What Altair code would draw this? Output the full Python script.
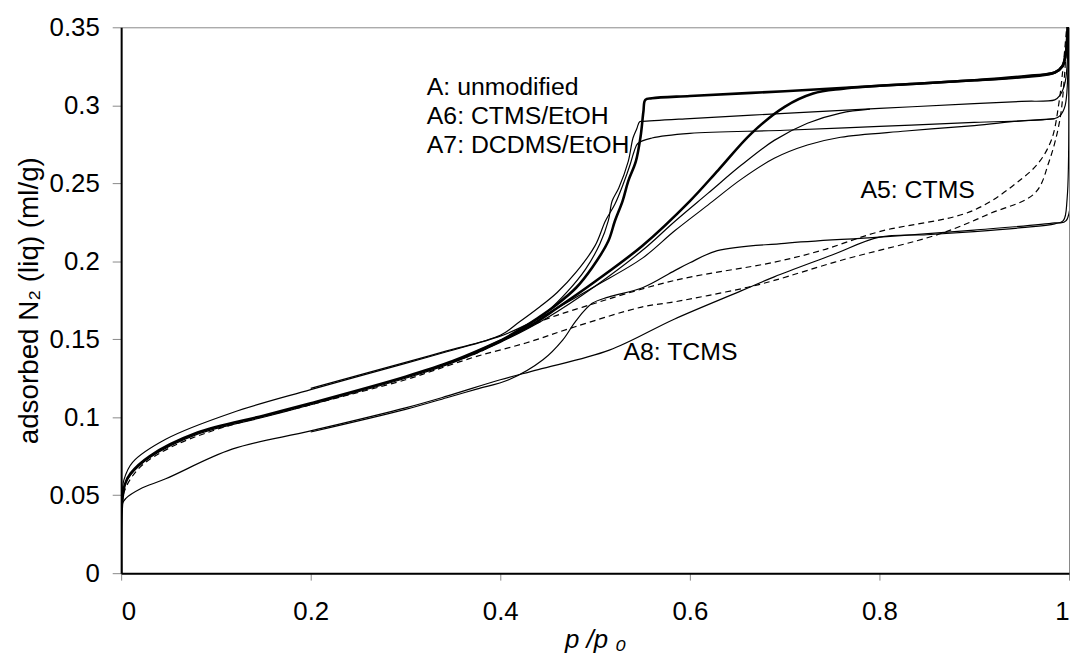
import altair as alt
import pandas as pd

# ---- A: unmodified (thick) ----
A_ads_x = [0, 0.001, 0.004, 0.01, 0.03, 0.08, 0.15, 0.2, 0.3, 0.35, 0.4, 0.43, 0.46, 0.5, 0.55, 0.6, 0.63, 0.665, 0.7, 0.73, 0.76, 0.8, 0.9, 0.96, 0.985, 0.993, 0.997, 0.999]
A_ads_y = [0, 0.045, 0.057, 0.064, 0.075, 0.09, 0.101, 0.109, 0.126, 0.136, 0.149, 0.158, 0.17, 0.187, 0.21, 0.2386, 0.2585, 0.282, 0.299, 0.3075, 0.3105, 0.3125, 0.316, 0.319, 0.321, 0.325, 0.335, 0.36]
A_des_x = [0.999, 0.997, 0.993, 0.985, 0.95, 0.9, 0.8, 0.7, 0.6, 0.56, 0.553, 0.551, 0.548, 0.543, 0.535, 0.529, 0.521, 0.514, 0.497, 0.48, 0.459, 0.438, 0.42, 0.4, 0.37]
A_des_y = [0.36, 0.335, 0.325, 0.321, 0.318, 0.316, 0.3125, 0.309, 0.306, 0.3045, 0.3035, 0.296, 0.28, 0.264, 0.2514, 0.2386, 0.226, 0.213, 0.196, 0.183, 0.172, 0.163, 0.156, 0.149, 0.1405]

# ---- A6: CTMS/EtOH ----
A6_ads_x = [0, 0.001, 0.004, 0.01, 0.03, 0.08, 0.15, 0.2, 0.3, 0.35, 0.4, 0.45, 0.5, 0.55, 0.584, 0.619, 0.654, 0.689, 0.724, 0.759, 0.79]
A6_ads_y = [0, 0.046, 0.057, 0.063, 0.074, 0.089, 0.1, 0.108, 0.125, 0.135, 0.148, 0.164, 0.184, 0.207, 0.2255, 0.2435, 0.2615, 0.2775, 0.2885, 0.295, 0.2975]
A6_des_x = [0.999, 0.996, 0.99, 0.985, 0.95, 0.9, 0.8, 0.7, 0.6, 0.55, 0.547, 0.544, 0.54, 0.535, 0.525, 0.518, 0.514, 0.505, 0.49, 0.47, 0.45, 0.43, 0.4, 0.35]
A6_des_y = [0.36, 0.315, 0.306, 0.3035, 0.3025, 0.301, 0.298, 0.2948, 0.2915, 0.2897, 0.2895, 0.285, 0.279, 0.264, 0.247, 0.2386, 0.226, 0.211, 0.195, 0.18, 0.168, 0.159, 0.1485, 0.1355]

# ---- A7: DCDMS/EtOH ----
A7_ads_x = [0, 0.001, 0.003, 0.012, 0.047, 0.117, 0.2, 0.3, 0.3435, 0.4, 0.43, 0.46, 0.5, 0.55, 0.584, 0.619, 0.654, 0.689, 0.724, 0.759, 0.828, 0.9, 0.95, 0.985]
A7_ads_y = [0, 0.05, 0.06, 0.0711, 0.0859, 0.1029, 0.1177, 0.1345, 0.142, 0.152, 0.16, 0.17, 0.184, 0.202, 0.2195, 0.236, 0.2525, 0.266, 0.2745, 0.2795, 0.2835, 0.287, 0.29, 0.2915]
A7_des_x = [0.999, 0.996, 0.99, 0.985, 0.9, 0.8, 0.7, 0.6, 0.56, 0.545, 0.541, 0.537, 0.53, 0.521, 0.511, 0.5, 0.48, 0.46, 0.44, 0.42, 0.4, 0.3435, 0.3, 0.2]
A7_des_y = [0.36, 0.30, 0.293, 0.2915, 0.289, 0.2865, 0.284, 0.282, 0.279, 0.2755, 0.27, 0.262, 0.25, 0.2367, 0.226, 0.21, 0.193, 0.18, 0.17, 0.161, 0.1525, 0.1425, 0.1352, 0.1185]

# ---- A5: CTMS (dashed) ----
A5_ads_x = [0, 0.001, 0.005, 0.02, 0.05, 0.1, 0.2, 0.3, 0.33, 0.375, 0.427, 0.479, 0.549, 0.584, 0.619, 0.661, 0.689, 0.759, 0.864, 0.916, 0.964, 0.979, 0.99, 0.995, 0.999]
A5_ads_y = [0, 0.045, 0.055, 0.068, 0.08, 0.092, 0.108, 0.124, 0.130, 0.139, 0.1476, 0.158, 0.1706, 0.174, 0.178, 0.1833, 0.1877, 0.2005, 0.2176, 0.2304, 0.2437, 0.264, 0.2895, 0.317, 0.36]
A5_des_x = [0.999, 0.993, 0.989, 0.982, 0.969, 0.951, 0.898, 0.8, 0.738, 0.689, 0.584, 0.487, 0.445, 0.409, 0.375, 0.3225]
A5_des_y = [0.36, 0.32, 0.300, 0.2787, 0.264, 0.2533, 0.2323, 0.219, 0.2068, 0.1994, 0.1877, 0.1706, 0.162, 0.1515, 0.141, 0.130]

# ---- A8: TCMS ----
A8_ads_x = [0, 0.001, 0.005, 0.02, 0.047, 0.117, 0.2, 0.3, 0.3435, 0.4, 0.44, 0.515, 0.584, 0.654, 0.689, 0.75, 0.8, 0.85, 0.9, 0.95, 0.985, 0.994, 0.998, 0.999]
A8_ads_y = [0, 0.044, 0.048, 0.054, 0.0605, 0.0795, 0.0912, 0.106, 0.1135, 0.124, 0.1305, 0.143, 0.163, 0.181, 0.19, 0.204, 0.2155, 0.217, 0.219, 0.2215, 0.224, 0.226, 0.24, 0.36]
A8_des_x = [0.999, 0.997, 0.985, 0.9, 0.8, 0.7, 0.629, 0.6, 0.584, 0.55, 0.514, 0.497, 0.48, 0.466, 0.445, 0.409, 0.375, 0.3435, 0.3, 0.2]
A8_des_y = [0.36, 0.226, 0.2246, 0.22, 0.2155, 0.2115, 0.2068, 0.199, 0.194, 0.183, 0.177, 0.173, 0.162, 0.1496, 0.1368, 0.124, 0.118, 0.1125, 0.105, 0.0905]

# ---- annotations ----
label_text = ["A: unmodified", "A6: CTMS/EtOH", "A7: DCDMS/EtOH", "A5: CTMS", "A8: TCMS"]
label_x = [0.3225, 0.3225, 0.3225, 0.780, 0.530]
label_y = [0.3067, 0.2883, 0.2692, 0.2405, 0.1368]

x_ticks = [0, 0.2, 0.4, 0.6, 0.8, 1.0]
y_ticks = [0, 0.05, 0.1, 0.15, 0.2, 0.25, 0.3, 0.35]

branches = [
    ("A_ads", "thick", A_ads_x, A_ads_y),
    ("A_des", "thick", A_des_x, A_des_y),
    ("A6_ads", "thin", A6_ads_x, A6_ads_y),
    ("A6_des", "thin", A6_des_x, A6_des_y),
    ("A7_ads", "thin", A7_ads_x, A7_ads_y),
    ("A7_des", "thin", A7_des_x, A7_des_y),
    ("A8_ads", "thin", A8_ads_x, A8_ads_y),
    ("A8_des", "thin", A8_des_x, A8_des_y),
    ("A5_ads", "dash", A5_ads_x, A5_ads_y),
    ("A5_des", "dash", A5_des_x, A5_des_y),
]
rows = []
for name, style, xs, ys in branches:
    for i, (xv, yv) in enumerate(zip(xs, ys)):
        rows.append({"branch": name, "style": style, "order": i, "x": xv, "y": yv})
df = pd.DataFrame(rows)
ann = pd.DataFrame({"text": label_text, "x": label_x, "y": label_y})

FONT = "Liberation Sans"
xscale = alt.Scale(domain=[0, 1], nice=False, zero=False)
yscale = alt.Scale(domain=[0, 0.35], nice=False)

xaxis = alt.Axis(values=x_ticks, format="~g", grid=False, domainColor="black", domainWidth=2,
                 tickColor="#888888", tickWidth=1, tickSize=7, labelPadding=19,
                 labelFont=FONT, labelFontSize=26, labelColor="black",
                 titleFont=FONT, titleFontSize=26, titleFontStyle="italic", titleFontWeight="normal",
                 titleColor="black", titlePadding=2, labelOverlap=False)
yaxis = alt.Axis(values=y_ticks, format="~g", grid=False, domainColor="black", domainWidth=2,
                 tickColor="#888888", tickWidth=1, tickSize=9, labelPadding=13,
                 labelFont=FONT, labelFontSize=26, labelColor="black",
                 titleFont=FONT, titleFontSize=28, titleFontWeight="normal",
                 titleColor="black", titlePadding=6, labelOverlap=False)

base = alt.Chart(df).encode(
    x=alt.X("x:Q", scale=xscale, axis=xaxis, title="p /p ₀"),
    y=alt.Y("y:Q", scale=yscale, axis=yaxis, title="adsorbed N₂ (liq) (ml/g)"),
    detail="branch:N",
    order="order:Q",
)

INTERP = "catmull-rom"
thick = base.transform_filter(alt.datum.style == "thick").mark_line(
    color="black", strokeWidth=2.6, clip=True, interpolate=INTERP)
thin = base.transform_filter(alt.datum.style == "thin").mark_line(
    color="black", strokeWidth=1.2, clip=True, interpolate=INTERP)
dash = base.transform_filter(alt.datum.style == "dash").mark_line(
    color="black", strokeWidth=1.2, strokeDash=[6, 4], clip=True, interpolate=INTERP)

text = alt.Chart(ann).mark_text(align="left", baseline="alphabetic", font=FONT,
                                fontSize=25, color="black").encode(
    x=alt.X("x:Q", scale=xscale), y=alt.Y("y:Q", scale=yscale), text="text:N")

chart = alt.layer(thin, dash, thick, text).properties(
    width=955, height=550,
    autosize=alt.AutoSizeParams(type="none"),
    padding={"left": 114, "top": 17, "right": 1, "bottom": 81},
    background="white",
).configure_view(stroke="#888888", strokeWidth=1)

chart.save("out.html", embed_options={"renderer": "svg", "actions": False})
